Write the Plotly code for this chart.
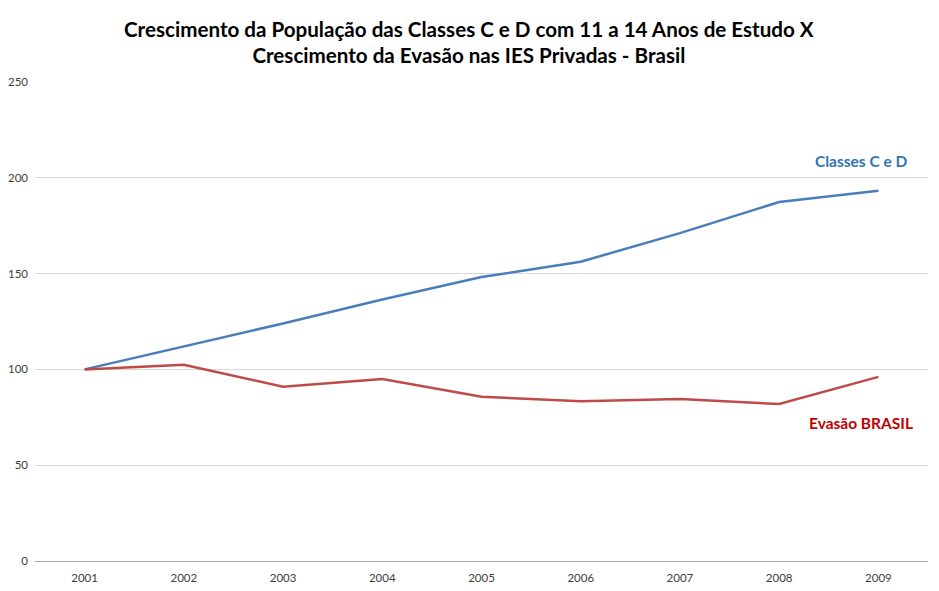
import plotly.graph_objects as go

years = ["2001", "2002", "2003", "2004", "2005", "2006", "2007", "2008", "2009"]
classes_cd = [100, 111.8, 124.0, 136.5, 148.2, 156.2, 171.1, 187.4, 193.2]
evasao_brasil = [100, 102.4, 91.0, 95.0, 85.7, 83.4, 84.6, 81.9, 96.1]
y_ticks = [0, 50, 100, 150, 200, 250]

title_text = ("Crescimento da População das Classes C e D com 11 a 14 Anos de Estudo X"
              "<br>Crescimento da Evasão nas IES Privadas - Brasil")

fig = go.Figure()
fig.add_trace(go.Scatter(x=years, y=classes_cd, mode="lines", name="Classes C e D",
                         line=dict(color="#4A7EBB", width=2.5)))
fig.add_trace(go.Scatter(x=years, y=evasao_brasil, mode="lines", name="Evasão BRASIL",
                         line=dict(color="#BE4B48", width=2.5)))

last = len(years) - 1
fig.add_annotation(x=last, y=classes_cd[-1], xref="x", yref="y",
                   text="<b>Classes C e D</b>",
                   showarrow=False, xanchor="center", yanchor="bottom",
                   xshift=-17, yshift=19,
                   font=dict(family="Lato, Open Sans, sans-serif", size=15.5, color="#2E75B6"))
fig.add_annotation(x=last, y=evasao_brasil[-1], xref="x", yref="y",
                   text="<b>Evasão BRASIL</b>",
                   showarrow=False, xanchor="center", yanchor="top",
                   xshift=-17, yshift=-35,
                   font=dict(family="Lato, Open Sans, sans-serif", size=15.5, color="#C00000"))

fig.update_layout(
    width=931, height=583,
    margin=dict(l=27, r=11, t=74, b=30, autoexpand=False),
    paper_bgcolor="white", plot_bgcolor="white",
    showlegend=False,
    title=dict(text="<b>" + title_text + "</b>", x=0.495, xanchor="center",
               y=0.951, yanchor="top", automargin=False,
               font=dict(family="Lato, Open Sans, sans-serif", size=20.6, color="#000000")),
    font=dict(family="Lato, Open Sans, sans-serif", size=11, color="#595959"),
)
fig.update_xaxes(type="category", range=[-0.5, 8.5], showgrid=False,
                 showline=True, linecolor="#A6A6A6", linewidth=1,
                 ticks="", automargin=False, ticklabelstandoff=6,
                 tickfont=dict(size=11.5, color="#404040"))
fig.update_yaxes(range=[0, 250], tickvals=y_ticks, showgrid=True,
                 gridcolor="#D9D9D9", gridwidth=1, zeroline=False,
                 showline=False, ticks="", ticklabelstandoff=6, automargin=False,
                 tickfont=dict(size=11.5, color="#404040"))

fig.write_html("out.html")
